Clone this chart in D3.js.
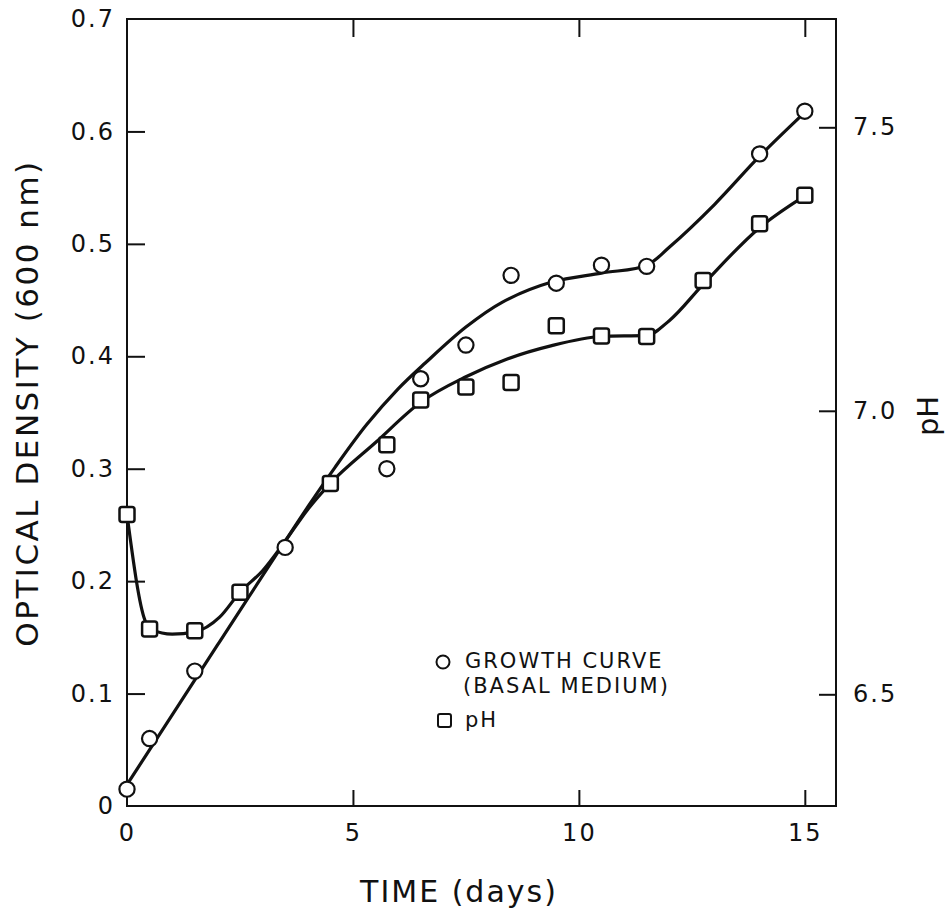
<!DOCTYPE html>
<html>
<head>
<meta charset="utf-8">
<script src="https://cdn.jsdelivr.net/npm/d3@7"></script>
<style>
    body { margin: 0; background: #fff; }
    svg { display: block; }
    text { font-family: "DejaVu Sans", sans-serif; fill: #111; }
</style>
</head>
<body>
<svg id="chart" width="949" height="911"></svg>
<script>
// measured points - growth curve (optical density)
const odDays   = [0, 0.5, 1.5, 3.5, 5.75, 6.5, 7.5, 8.5, 9.5, 10.5, 11.5, 14, 15];
const odValues = [0.015, 0.06, 0.12, 0.23, 0.30, 0.38, 0.41, 0.472, 0.465, 0.481, 0.48, 0.58, 0.618];

// measured points - pH
const phDays   = [0, 0.5, 1.5, 2.5, 4.5, 5.75, 6.5, 7.5, 8.5, 9.5, 10.5, 11.5, 12.75, 14, 15];
const phValues = [6.817, 6.615, 6.612, 6.68, 6.872, 6.94, 7.019, 7.042, 7.05, 7.15, 7.132, 7.131, 7.23, 7.33, 7.38];

// hand drawn fitted curves
const odFitDays   = [0, 2, 4, 4.6, 5.3, 6.0, 6.6, 7.5, 8.3, 9.4, 10.5, 11.5, 12.0, 13.0, 14.0, 15.0];
const odFitValues = [0.019, 0.143, 0.266, 0.301, 0.339, 0.371, 0.394, 0.426, 0.448, 0.466, 0.474, 0.481, 0.497, 0.535, 0.578, 0.617];

const phFitDays   = [0, 0.4, 0.55, 1.0, 1.5, 2.05, 2.5, 3.0, 3.5, 4.0, 4.5, 5.5, 6.5, 7.5, 8.4, 9.4, 10.5, 11.5, 12.0, 12.75, 14.0, 15.0];
const phFitValues = [6.817, 6.630, 6.614, 6.606, 6.610, 6.636, 6.68, 6.718, 6.770, 6.826, 6.872, 6.944, 7.015, 7.060, 7.091, 7.115, 7.131, 7.133, 7.159, 7.223, 7.323, 7.379];

// ticks
const dayTicks = [0, 5, 10, 15];
const odTicks  = [0, 0.1, 0.2, 0.3, 0.4, 0.5, 0.6, 0.7];
const phTicks  = [6.5, 7.0, 7.5];

const margin = {top: 19, right: 113, bottom: 105, left: 127};
const width = 949 - margin.left - margin.right;
const height = 911 - margin.top - margin.bottom;

const root = d3.select("#chart");
const svg = root.append("g")
    .attr("transform", `translate(${margin.left},${margin.top})`);

const x = d3.scaleLinear().domain([0, 15.69]).range([0, width]);
const y = d3.scaleLinear().domain([0, 0.7]).range([height, 0]);
const yPH = d3.scaleLinear().domain([6.303, 7.691]).range([height, 0]);

// Left axis (inward ticks, no ticks at 0 and 0.7)
const leftAxis = svg.append("g")
    .call(d3.axisLeft(y)
        .tickValues(odTicks)
        .tickSize(-18)
        .tickPadding(12)
        .tickFormat(d => d === 0 ? "0" : d3.format(".1f")(d)));
leftAxis.selectAll(".tick").filter(d => d === 0 || d === 0.7).select("line").remove();

// Bottom axis
const bottomAxis = svg.append("g")
    .attr("transform", `translate(0,${height})`)
    .call(d3.axisBottom(x)
        .tickValues(dayTicks)
        .tickSize(-16)
        .tickPadding(18));
bottomAxis.selectAll(".tick").filter(d => d === 0).select("line").remove();

// Top axis, ticks only
const topAxis = svg.append("g")
    .call(d3.axisTop(x)
        .tickValues(dayTicks.slice(1))
        .tickSize(-18)
        .tickFormat(""));

// Right axis for pH
const rightAxis = svg.append("g")
    .attr("transform", `translate(${width},0)`)
    .call(d3.axisRight(yPH)
        .tickValues(phTicks)
        .tickSize(-17)
        .tickPadding(17)
        .tickFormat(d3.format(".1f")));

[leftAxis, bottomAxis, topAxis, rightAxis].forEach(g => {
    g.select(".domain").remove();
    g.selectAll(".tick line").attr("stroke", "#111").attr("stroke-width", 2);
    g.selectAll(".tick text")
        .style("font-size", "24px")
        .style("letter-spacing", "2px")
        .attr("fill", "#111");
});

// Frame
svg.append("rect")
    .attr("width", width)
    .attr("height", height)
    .attr("fill", "none")
    .attr("stroke", "#111")
    .attr("stroke-width", 2);

// Fitted curves
const odLine = d3.line()
    .x((d, i) => x(odFitDays[i]))
    .y(d => y(d))
    .curve(d3.curveCatmullRom.alpha(0.5));

const phLine = d3.line()
    .x((d, i) => x(phFitDays[i]))
    .y(d => yPH(d))
    .curve(d3.curveMonotoneX);

svg.append("path")
    .datum(odFitValues)
    .attr("fill", "none")
    .attr("stroke", "#111")
    .attr("stroke-width", 3.2)
    .attr("d", odLine);

svg.append("path")
    .datum(phFitValues)
    .attr("fill", "none")
    .attr("stroke", "#111")
    .attr("stroke-width", 3.2)
    .attr("d", phLine);

// Markers
svg.selectAll(".od-pt")
    .data(odValues)
    .enter().append("circle")
    .attr("class", "od-pt")
    .attr("cx", (d, i) => x(odDays[i]))
    .attr("cy", d => y(d))
    .attr("r", 7.6)
    .attr("fill", "#fff")
    .attr("stroke", "#111")
    .attr("stroke-width", 2.2);

const sq = 15;
svg.selectAll(".ph-pt")
    .data(phValues)
    .enter().append("rect")
    .attr("class", "ph-pt")
    .attr("x", (d, i) => x(phDays[i]) - sq / 2)
    .attr("y", d => yPH(d) - sq / 2)
    .attr("width", sq)
    .attr("height", sq)
    .attr("rx", 2.5)
    .attr("fill", "#fff")
    .attr("stroke", "#111")
    .attr("stroke-width", 2.5);

// Legend
const legend = root.append("g").attr("transform", "translate(443,662)");
legend.append("circle")
    .attr("r", 6.5)
    .attr("fill", "#fff")
    .attr("stroke", "#111")
    .attr("stroke-width", 2);
legend.append("rect")
    .attr("x", -5).attr("y", 52)
    .attr("width", 13).attr("height", 13)
    .attr("rx", 2)
    .attr("fill", "#fff")
    .attr("stroke", "#111")
    .attr("stroke-width", 2);
[["GROWTH CURVE", 22, 6], ["(BASAL MEDIUM)", 20, 31], ["pH", 22, 65]].forEach(([t, dx, dy]) => {
    legend.append("text")
        .attr("x", dx)
        .attr("y", dy)
        .style("font-size", "21px")
        .style("letter-spacing", "2px")
        .text(t);
});

// Axis titles
root.append("text")
    .attr("transform", "translate(38,403) rotate(-90)")
    .attr("text-anchor", "middle")
    .style("font-size", "31px")
    .style("letter-spacing", "2.5px")
    .text("OPTICAL DENSITY (600 nm)");

root.append("text")
    .attr("x", 459)
    .attr("y", 902)
    .attr("text-anchor", "middle")
    .style("font-size", "30px")
    .style("letter-spacing", "2px")
    .text("TIME (days)");

root.append("text")
    .attr("transform", "translate(938,416) rotate(-90)")
    .attr("text-anchor", "middle")
    .style("font-size", "29px")
    .text("pH");
</script>
</body>
</html>
